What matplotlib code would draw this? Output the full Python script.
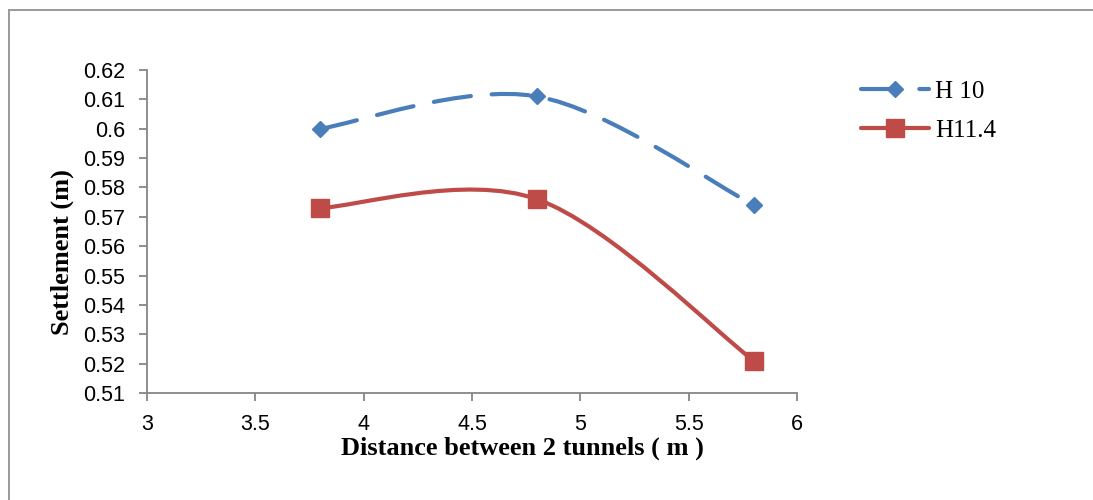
import numpy as np
import matplotlib
matplotlib.use('Agg')
import matplotlib.pyplot as plt
from matplotlib.path import Path
from matplotlib.patches import PathPatch
from matplotlib.lines import Line2D
from matplotlib.ticker import FuncFormatter, MultipleLocator

# Data
distance = [3.8, 4.8, 5.8]
h10_settlement = [0.600, 0.611, 0.574]
h114_settlement = [0.573, 0.576, 0.521]
series_labels = ['H 10', 'H11.4']

BLUE = '#4A7EBB'
RED = '#BE4B48'
GRAY = '#868686'
LW = 3.0


def smooth_path(xs, ys):
    # Excel-like smoothed line: cubic Bezier with Catmull-Rom control points
    pts = np.column_stack([xs, ys])
    n = len(pts)
    verts = [pts[0]]
    codes = [Path.MOVETO]
    for i in range(n - 1):
        p_prev = pts[max(i - 1, 0)]
        p0 = pts[i]
        p1 = pts[i + 1]
        p_next = pts[min(i + 2, n - 1)]
        c1 = p0 + (p1 - p_prev) / 6.0
        c2 = p1 - (p_next - p0) / 6.0
        verts.extend([c1, c2, p1])
        codes.extend([Path.CURVE4] * 3)
    return Path(verts, codes)


def draw_series(ax, xs, ys, color, marker, ms, dashes=None):
    ls = (0, dashes) if dashes else '-'
    patch = PathPatch(smooth_path(xs, ys), facecolor='none', edgecolor=color,
                      lw=LW, linestyle=ls, capstyle='round', joinstyle='round')
    ax.add_patch(patch)
    ax.plot(xs, ys, ls='none', marker=marker, ms=ms, color=color, zorder=3)


fig = plt.figure(figsize=(10.93, 5.0), dpi=100)
ax = fig.add_axes([0.1345, 0.214, 0.5947, 0.646])

draw_series(ax, distance, h10_settlement, BLUE, 'D', 8, dashes=(9, 5))
draw_series(ax, distance, h114_settlement, RED, 's', 13.5)

ax.set_xlim(3, 6)
ax.set_ylim(0.51, 0.62)
ax.xaxis.set_major_locator(MultipleLocator(0.5))
ax.yaxis.set_major_locator(MultipleLocator(0.01))
ax.xaxis.set_major_formatter(FuncFormatter(lambda v, p: f'{v:g}'))
ax.yaxis.set_major_formatter(FuncFormatter(lambda v, p: f'{round(v, 2):g}'))

for side in ['top', 'right']:
    ax.spines[side].set_visible(False)
for side in ['left', 'bottom']:
    ax.spines[side].set_color(GRAY)
    ax.spines[side].set_linewidth(1.3)

ax.tick_params(axis='both', direction='out', length=6, width=1.3, color=GRAY,
               labelsize=15.5, labelfontfamily='Liberation Sans')
ax.tick_params(axis='y', pad=10)
ax.tick_params(axis='x', pad=9)

ax.set_xlabel('Distance between 2 tunnels ( m )', fontfamily='Liberation Serif',
              fontweight='bold', fontsize=19)
ax.set_ylabel('Settlement (m)', fontfamily='Liberation Serif',
              fontweight='bold', fontsize=19)
ax.xaxis.set_label_coords(0.577, -0.136)
ax.yaxis.set_label_coords(-0.113, 0.437)

handles = [
    Line2D([], [], color=BLUE, lw=LW, ls=(0, (9, 5)), marker='D', ms=8,
           dash_capstyle='round'),
    Line2D([], [], color=RED, lw=LW, marker='s', ms=13.5, solid_capstyle='round'),
]
leg = ax.legend(handles, series_labels, loc='upper left', bbox_to_anchor=(1.072, 1.022),
                frameon=False, prop={'family': 'Liberation Serif', 'size': 18},
                handlelength=2.7, handletextpad=0.25, labelspacing=0.65,
                borderaxespad=0.3)

# Chart-area frame (only left and top edges visible in the original)
fig.add_artist(Line2D([8.5 / 1093, 8.5 / 1093], [0, 1 - 10 / 500],
                      transform=fig.transFigure, color='#9a9a9a', lw=1.4))
fig.add_artist(Line2D([8.5 / 1093, 1], [1 - 10 / 500, 1 - 10 / 500],
                      transform=fig.transFigure, color='#9a9a9a', lw=1.4))

fig.savefig('out.png', dpi=100)
